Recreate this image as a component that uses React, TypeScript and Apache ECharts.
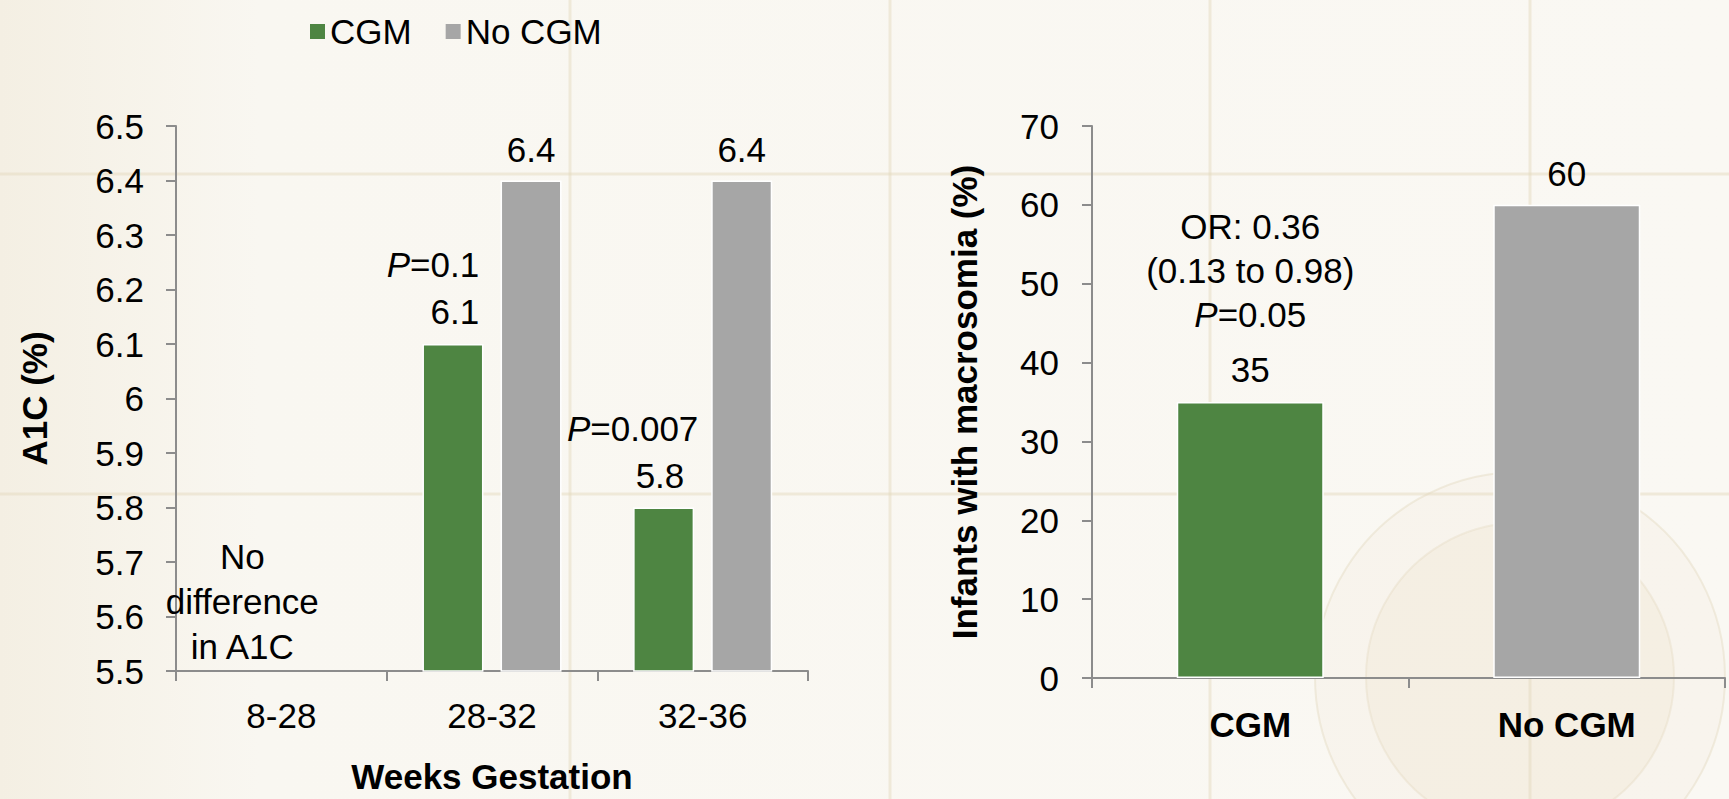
import React, { useEffect, useRef } from 'react';
import * as echarts from 'echarts';

// ---- data ----
const weekCategories = ['8-28', '28-32', '32-36'];
const cgmA1c: (number | null)[] = [null, 6.1, 5.8];
const noCgmA1c: (number | null)[] = [null, 6.4, 6.4];
const a1cPValues = ['', '0.1', '0.007'];
const a1cMin = 5.5;
const a1cMax = 6.5;
const a1cInterval = 0.1;
const noDifferenceNote = ['No', 'difference', 'in A1C'];

const groupCategories = ['CGM', 'No CGM'];
const macrosomiaPct = [35, 60];
const macrosomiaNote = ['OR: 0.36', '(0.13 to 0.98)'];
const macrosomiaP = '0.05';
const macroMin = 0;
const macroMax = 70;
const macroInterval = 10;

const seriesNames = ['CGM', 'No CGM'];

// ---- style ----
const GREEN = '#4e8542';
const GRAY = '#a6a6a6';
const AXIS = '#8c8c8c';
const FONT = '"Liberation Sans", Arial, Helvetica, sans-serif';
const FS = 35;

export default function App() {
  const ref = useRef<HTMLDivElement>(null);

  useEffect(() => {
    if (!ref.current) return;
    const chart = echarts.init(ref.current, null, { renderer: 'svg' });

    const axisLine = { show: true, lineStyle: { color: AXIS, width: 2 } };
    const axisTick = { show: true, length: 10, lineStyle: { color: AXIS, width: 2 } };
    const textBase = { fontFamily: FONT, color: '#000' };

    const pShift = [0, -20, -31];
    const valuePadRight = [0, 0, 14];

    const cgmData = cgmA1c.map((v, i) => {
      if (v == null) return '-';
      return {
        value: v,
        label: {
          show: true,
          position: 'top',
          distance: 9,
          offset: [pShift[i], 0],
          formatter: `{i|P}{n|=${a1cPValues[i]}}\n{v|${v}}`,
          rich: {
            i: { ...textBase, fontSize: FS, fontStyle: 'italic', lineHeight: 47 },
            n: { ...textBase, fontSize: FS, lineHeight: 47 },
            v: { ...textBase, fontSize: FS, lineHeight: 47, align: 'right', padding: [0, valuePadRight[i], 0, 0] },
          },
        },
      };
    });

    const noCgmData = noCgmA1c.map((v) => (v == null ? '-' : v));

    const macroData = macrosomiaPct.map((v, i) => {
      const item: any = { value: v, itemStyle: { color: i === 0 ? GREEN : GRAY } };
      if (i === 0) {
        item.label = {
          show: true,
          position: 'top',
          distance: 0,
          formatter: `{a|${macrosomiaNote[0]}}\n{a|${macrosomiaNote[1]}}\n{i|P}{a|=${macrosomiaP}}\n{v|${v}}`,
          rich: {
            a: { ...textBase, fontSize: FS, lineHeight: 44 },
            i: { ...textBase, fontSize: FS, lineHeight: 44, fontStyle: 'italic' },
            v: { ...textBase, fontSize: FS, lineHeight: 66 },
          },
        };
      }
      return item;
    });

    const bgLine = (x1: number, y1: number, x2: number, y2: number) => ({
      type: 'line',
      silent: true,
      z: -10,
      shape: { x1, y1, x2, y2 },
      style: { stroke: 'rgba(226,214,186,0.45)', lineWidth: 3 },
    });

    const option: any = {
      animation: false,
      backgroundColor: {
        type: 'linear', x: 0, y: 0, x2: 1, y2: 0,
        colorStops: [
          { offset: 0, color: '#f4efe3' },
          { offset: 0.15, color: '#f9f7f1' },
          { offset: 1, color: '#faf8f3' },
        ],
      },
      textStyle: { fontFamily: FONT },
      graphic: [
        {
          type: 'circle', silent: true, z: -11,
          shape: { cx: 1520, cy: 677, r: 205 },
          style: { fill: 'rgba(240,232,214,0.2)', stroke: 'rgba(226,214,188,0.4)', lineWidth: 2 },
        },
        {
          type: 'circle', silent: true, z: -11,
          shape: { cx: 1520, cy: 677, r: 154 },
          style: { fill: 'rgba(238,228,205,0.3)', stroke: 'rgba(226,214,188,0.35)', lineWidth: 2 },
        },
        bgLine(570, 0, 570, 799),
        bgLine(890, 0, 890, 799),
        bgLine(1210, 0, 1210, 799),
        bgLine(1530, 0, 1530, 799),
        bgLine(0, 174, 1729, 174),
        bgLine(0, 494, 1729, 494),
      ],
      legend: {
        data: seriesNames,
        left: 305,
        top: 9,
        itemWidth: 15,
        itemHeight: 15,
        itemGap: 34,
        icon: 'rect',
        itemStyle: { borderWidth: 0 },
        textStyle: { ...textBase, fontSize: FS },
      },
      grid: [
        { left: 176, top: 126, width: 632, height: 552 },
        { left: 1092, top: 126, width: 633, height: 552 },
      ],
      xAxis: [
        {
          type: 'category', gridIndex: 0, data: weekCategories,
          axisLine, axisTick: { ...axisTick, interval: 0 },
          axisLabel: { ...textBase, fontSize: FS, margin: 27 },
          name: 'Weeks Gestation', nameLocation: 'middle', nameGap: 88,
          nameTextStyle: { ...textBase, fontSize: FS, fontWeight: 'bold' },
        },
        {
          type: 'category', gridIndex: 1, data: groupCategories,
          axisLine, axisTick: { ...axisTick, interval: 0 },
          axisLabel: { ...textBase, fontSize: FS, fontWeight: 'bold', margin: 29 },
        },
      ],
      yAxis: [
        {
          type: 'value', gridIndex: 0, min: a1cMin, max: a1cMax, interval: a1cInterval,
          axisLine, axisTick, splitLine: { show: false },
          axisLabel: { ...textBase, fontSize: FS, margin: 32, formatter: (v: number) => String(+v.toFixed(1)) },
          name: 'A1C (%)', nameLocation: 'middle', nameGap: 124,
          nameTextStyle: { ...textBase, fontSize: FS, fontWeight: 'bold' },
        },
        {
          type: 'value', gridIndex: 1, min: macroMin, max: macroMax, interval: macroInterval,
          axisLine, axisTick, splitLine: { show: false },
          axisLabel: { ...textBase, fontSize: FS, margin: 33 },
          name: 'Infants with macrosomia (%)', nameLocation: 'middle', nameGap: 110,
          nameTextStyle: { ...textBase, fontSize: FS, fontWeight: 'bold' },
        },
      ],
      series: [
        {
          name: seriesNames[0], type: 'bar', xAxisIndex: 0, yAxisIndex: 0,
          barWidth: 61, barGap: '28%',
          itemStyle: { color: GREEN, borderColor: '#ffffff', borderWidth: 1.5 },
          data: cgmData,
          markPoint: {
            symbol: 'rect', symbolSize: 0, silent: true,
            data: [{ coord: [weekCategories[0], 5.627] }],
            label: {
              show: true, position: 'inside', ...textBase, fontSize: FS, lineHeight: 45,
              formatter: noDifferenceNote.join('\n'),
            },
          },
        },
        {
          name: seriesNames[1], type: 'bar', xAxisIndex: 0, yAxisIndex: 0,
          barWidth: 61, barGap: '28%',
          itemStyle: { color: GRAY, borderColor: '#ffffff', borderWidth: 1.5 },
          label: { show: true, position: 'top', distance: 14, ...textBase, fontSize: FS },
          data: noCgmData,
        },
        {
          name: 'Infants with macrosomia', type: 'bar', xAxisIndex: 1, yAxisIndex: 1,
          barWidth: 147,
          itemStyle: { borderColor: '#ffffff', borderWidth: 1.5 },
          label: { show: true, position: 'top', distance: 14, ...textBase, fontSize: FS },
          data: macroData,
        },
      ],
    };

    chart.setOption(option);
    return () => chart.dispose();
  }, []);

  return (
    <div
      ref={ref}
      style={{ position: 'fixed', left: 0, top: 0, width: 1729, height: 799 }}
    />
  );
}
